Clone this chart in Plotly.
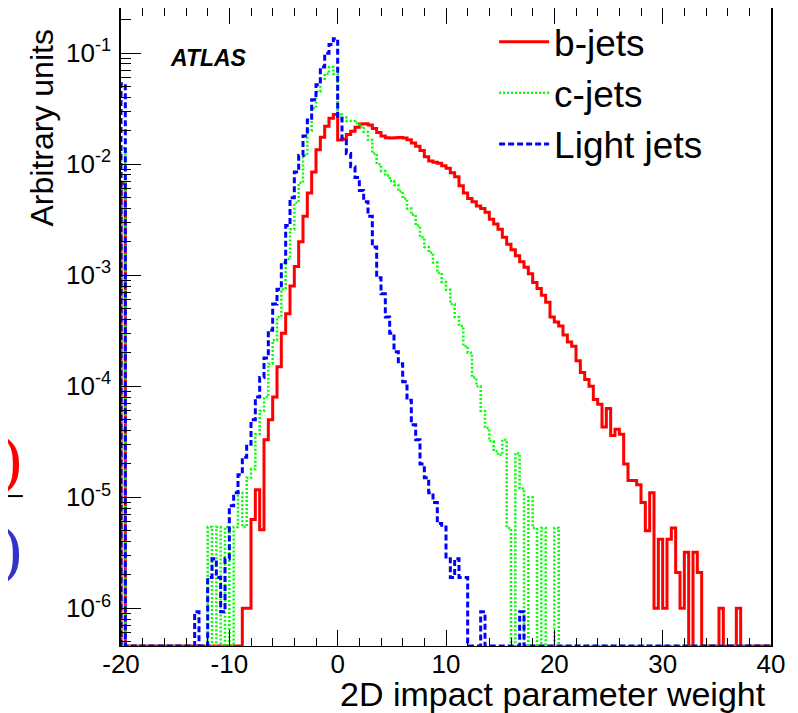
import math
import plotly.graph_objects as go

# ---------------- data (per-bin contents, bin width 0.4, from -20 to 40) ----------------
x_min = -20.0
x_max = 40.0
n_bins = 150

b_jets = [
    6.7e-3, 0, 0, 0, 0, 0, 0, 0, 0, 0,                                      # -20.0
    0, 0, 0, 0, 0, 0, 0, 0, 0, 0,                                           # -16.0
    0, 0, 0, 0, 0, 0, 0, 0, 1.0e-6, 1.0e-6,                                 # -12.0
    6.3e-6, 1.17e-5, 5.1e-6, 3.3e-5, 5.0e-5, 8.0e-5, 1.5e-4, 3.0e-4, 4.5e-4, 8.0e-4,   # -8.0
    1.2e-3, 2.0e-3, 3.4e-3, 5.5e-3, 8.5e-3, 1.35e-2, 1.75e-2, 2.2e-2, 2.6e-2, 2.8e-2,  # -4.0
    1.65e-2, 1.68e-2, 1.85e-2, 1.98e-2, 2.15e-2, 2.3e-2, 2.32e-2, 2.25e-2, 2.1e-2, 1.93e-2,  # 0.0
    1.8e-2, 1.73e-2, 1.72e-2, 1.73e-2, 1.74e-2, 1.72e-2, 1.66e-2, 1.55e-2, 1.45e-2, 1.33e-2,  # 4.0
    1.17e-2, 1.07e-2, 1.04e-2, 1.02e-2, 9.7e-3, 9.2e-3, 8.4e-3, 7.7e-3, 6.4e-3, 5.5e-3,  # 8.0
    4.9e-3, 4.6e-3, 4.2e-3, 4.0e-3, 3.7e-3, 3.2e-3, 2.9e-3, 2.6e-3, 2.2e-3, 1.9e-3,  # 12.0
    1.7e-3, 1.5e-3, 1.32e-3, 1.18e-3, 1.03e-3, 8.6e-4, 7.6e-4, 6.6e-4, 5.7e-4, 4.2e-4,  # 16.0
    3.8e-4, 3.5e-4, 2.9e-4, 2.5e-4, 2.3e-4, 1.7e-4, 1.33e-4, 1.15e-4, 1.0e-4, 7.6e-5,  # 20.0
    6.9e-5, 4.3e-5, 6.3e-5, 3.6e-5, 4.1e-5, 3.7e-5, 2.0e-5, 1.42e-5, 1.42e-5, 1.3e-5,  # 24.0
    9.0e-6, 5.0e-6, 1.1e-5, 1.0e-6, 4.2e-6, 1.0e-6, 4.2e-6, 5.3e-6, 2.1e-6, 1.0e-6,  # 28.0
    3.2e-6, 0, 3.2e-6, 2.1e-6, 0, 0, 0, 0, 1.0e-6, 0,                       # 32.0
    0, 0, 1.0e-6, 0, 0, 0, 0, 0, 0, 0,                                      # 36.0
]

c_jets = [
    1.4e-2, 0, 0, 0, 0, 0, 0, 0, 0, 0,                                      # -20.0
    0, 0, 0, 0, 0, 0, 0, 0, 0, 0,                                           # -16.0
    5.4e-6, 0, 5.4e-6, 0, 5.4e-6, 0, 5.4e-6, 1.1e-5, 5.4e-6, 1.5e-5,        # -12.0
    1.8e-5, 3.7e-5, 6.0e-5, 8.0e-5, 1.6e-4, 2.6e-4, 4.2e-4, 7.5e-4, 1.4e-3, 2.6e-3,  # -8.0
    4.5e-3, 6.8e-3, 1.2e-2, 2.0e-2, 3.2e-2, 4.5e-2, 5.9e-2, 6.5e-2, 7.5e-2, 6.5e-2,  # -4.0
    2.8e-2, 2.63e-2, 2.45e-2, 2.45e-2, 2.35e-2, 2.2e-2, 1.95e-2, 1.65e-2, 1.25e-2, 1.0e-2,  # 0.0
    8.7e-3, 7.9e-3, 7.1e-3, 6.5e-3, 5.7e-3, 4.9e-3, 4.0e-3, 3.5e-3, 2.8e-3, 2.2e-3,  # 4.0
    1.8e-3, 1.6e-3, 1.3e-3, 1.05e-3, 8.7e-4, 7.4e-4, 5.5e-4, 4.2e-4, 3.5e-4, 2.3e-4,  # 8.0
    2.0e-4, 1.2e-4, 1.0e-4, 6.0e-5, 4.2e-5, 3.2e-5, 2.6e-5, 2.4e-5, 3.3e-5, 5.3e-6,  # 12.0
    0, 2.5e-5, 1.2e-5, 0, 1.0e-5, 5.3e-6, 0, 5.3e-6, 0, 0,                  # 16.0
    5.3e-6, 0, 0, 0, 0, 0, 0, 0, 0, 0,                                      # 20.0
    0, 0, 0, 0, 0, 0, 0, 0, 0, 0,                                           # 24.0
    0, 0, 0, 0, 0, 0, 0, 0, 0, 0,                                           # 28.0
    0, 0, 0, 0, 0, 0, 0, 0, 0, 0,                                           # 32.0
    0, 0, 0, 0, 0, 0, 0, 0, 0, 0,                                           # 36.0
]

light_jets = [
    5.3e-2, 0, 0, 0, 0, 0, 0, 0, 0, 0,                                      # -20.0
    0, 0, 0, 0, 0, 0, 0, 9.3e-7, 0, 0,                                      # -16.0
    1.9e-6, 2.8e-6, 1.9e-6, 9.3e-7, 2.8e-6, 8.4e-6, 1.1e-5, 1.6e-5, 2.3e-5, 3.0e-5,  # -12.0
    5.0e-5, 8.0e-5, 1.2e-4, 1.8e-4, 3.2e-4, 5.5e-4, 7.5e-4, 1.3e-3, 2.8e-3, 5.0e-3,  # -8.0
    8.5e-3, 1.2e-2, 1.8e-2, 2.5e-2, 3.8e-2, 5.2e-2, 7.5e-2, 1.0e-1, 1.2e-1, 1.35e-1,  # -4.0
    2.6e-2, 1.7e-2, 1.25e-2, 9.5e-3, 7.6e-3, 5.8e-3, 4.6e-3, 3.4e-3, 1.8e-3, 9.5e-4,  # 0.0
    6.8e-4, 4.2e-4, 3.0e-4, 2.05e-4, 1.6e-4, 1.1e-4, 7.5e-5, 4.5e-5, 3.3e-5, 2.0e-5,  # 4.0
    1.5e-5, 1.1e-5, 9.0e-6, 5.8e-6, 5.4e-6, 2.8e-6, 1.9e-6, 2.8e-6, 1.9e-6, 1.9e-6,  # 8.0
    0, 0, 0, 9.3e-7, 0, 0, 0, 0, 0, 0,                                      # 12.0
    0, 0, 9.3e-7, 0, 0, 0, 0, 0, 0, 0,                                      # 16.0
    0, 0, 0, 0, 0, 0, 0, 0, 0, 0,                                           # 20.0
    0, 0, 0, 0, 0, 0, 0, 0, 0, 0,                                           # 24.0
    0, 0, 0, 0, 0, 0, 0, 0, 0, 0,                                           # 28.0
    0, 0, 0, 0, 0, 0, 0, 0, 0, 0,                                           # 32.0
    0, 0, 0, 0, 0, 0, 0, 0, 0, 0,                                           # 36.0
]

series_names = ["b-jets", "c-jets", "Light jets"]
x_tick_values = [-20, -10, 0, 10, 20, 30, 40]
y_decades = [-6, -5, -4, -3, -2, -1]

# ---------------- styling ----------------
log_y_min, log_y_max = -6.339, -0.593
y_floor = 10 ** log_y_min  # empty bins are drawn on the frame floor, ROOT-style

bin_w = (x_max - x_min) / n_bins
edges = [x_min + bin_w * i for i in range(n_bins + 1)]

FONT = "Liberation Sans, Arial, Helvetica, sans-serif"


def step_xy(values):
    ys = [v if v > 0 else y_floor for v in values]
    xs = [edges[0]] + edges[:-1] + [edges[-1]]
    ys = [y_floor] + ys + [ys[-1]]
    return xs, ys


styles = [
    dict(color="#ff0000", width=3, dash="solid"),
    dict(color="#00ff00", width=2.5, dash="2px,2px"),
    dict(color="#0000ff", width=3, dash="6px,3px"),
]

fig = go.Figure()
for name, vals, st in zip(series_names, [b_jets, c_jets, light_jets], styles):
    xs, ys = step_xy(vals)
    fig.add_trace(go.Scatter(x=xs, y=ys, mode="lines", name=name,
                             line=dict(shape="hv", **st)))

minor_vals = [k * 10 ** e for e in range(-7, 0) for k in range(2, 10)
              if log_y_min <= math.log10(k * 10 ** e) <= log_y_max]

# the page body has an 8 px margin, so the figure is 8 px smaller than the window
fig.update_layout(
    width=790, height=705,
    margin=dict(l=113, r=27, t=0, b=67, pad=0),
    paper_bgcolor="white", plot_bgcolor="white",
    font=dict(family=FONT, color="black"),
    showlegend=True,
    legend=dict(x=0.574, y=0.995, xanchor="left", yanchor="top",
                font=dict(size=37, family=FONT), bgcolor="rgba(0,0,0,0)",
                itemwidth=50, tracegroupgap=2),
    xaxis=dict(range=[x_min, x_max], tickmode="array", tickvals=x_tick_values,
               ticktext=[str(v) for v in x_tick_values],
               ticks="inside", ticklen=16, tickwidth=1, tickcolor="black",
               minor=dict(dtick=2, ticks="inside", ticklen=8, tickcolor="black", tickwidth=1),
               showline=True, linecolor="black", linewidth=1, mirror="ticks",
               showgrid=False, zeroline=False, ticklabelstandoff=-5,
               tickfont=dict(size=26, family=FONT)),
    yaxis=dict(type="log", range=[log_y_min, log_y_max], tickmode="array",
               tickvals=[10 ** d for d in y_decades],
               ticktext=["10<sup>%d</sup>" % d for d in y_decades],
               ticks="inside", ticklen=20, tickwidth=1, tickcolor="black",
               minor=dict(tickmode="array", tickvals=minor_vals, ticks="inside",
                          ticklen=10, tickcolor="black", tickwidth=1),
               showline=True, linecolor="black", linewidth=1.5, mirror=True,
               showgrid=False, zeroline=False,
               ticklabelstandoff=3,
               tickfont=dict(size=26, family=FONT)),
)

fig.add_annotation(text="2D impact parameter weight", xref="paper", yref="paper",
                   x=0.9954, y=-0.0745, xanchor="right", yanchor="middle",
                   showarrow=False, font=dict(size=34, family=FONT))
fig.add_annotation(text="Arbitrary units", xref="paper", yref="paper",
                   x=-0.1215, y=0.9687, xanchor="center", yanchor="top", textangle=-90,
                   showarrow=False, font=dict(size=32, family=FONT))
fig.add_annotation(text="<b><i>ATLAS</i></b>", xref="paper", yref="paper",
                   x=0.0723, y=0.9216, xanchor="left", yanchor="middle",
                   showarrow=False, font=dict(size=23, family=FONT))
# fragments of a neighbouring formula cut at the left edge of the original figure
fig.add_annotation(text=")", xref="paper", yref="paper", x=-0.149, y=0.293,
                   xanchor="right", yanchor="middle", showarrow=False,
                   font=dict(size=66, family="Liberation Serif, serif", color="#ff0000"))
fig.add_annotation(text=")", xref="paper", yref="paper", x=-0.149, y=0.152,
                   xanchor="right", yanchor="middle", showarrow=False,
                   font=dict(size=66, family="Liberation Serif, serif", color="#3333cc"))
fig.add_shape(type="line", xref="paper", yref="paper", x0=-0.2, x1=-0.151,
              y0=0.235, y1=0.235, line=dict(color="black", width=2))

fig.write_html("out.html")
